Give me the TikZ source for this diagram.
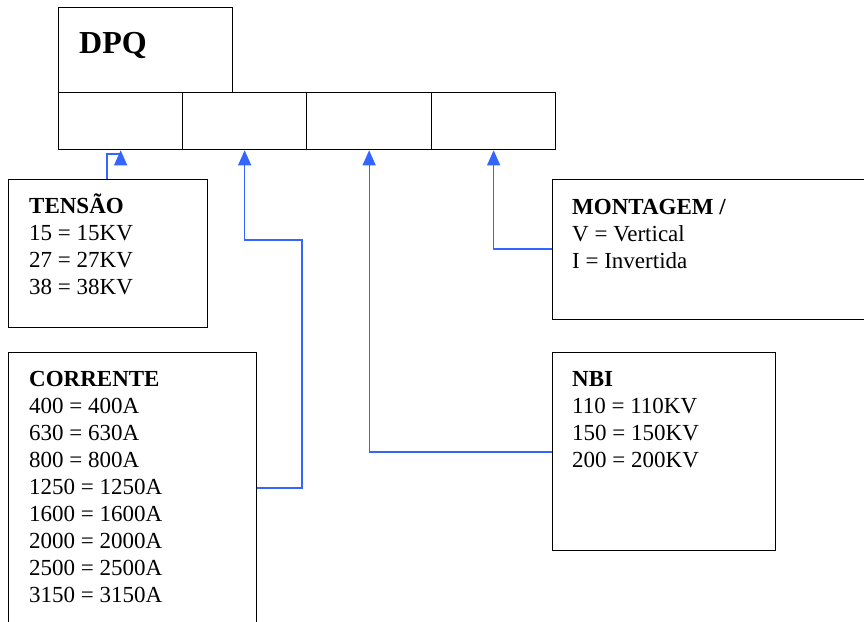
\documentclass[tikz,border=0pt]{standalone}
\usepackage{fontspec}
\setmainfont{Liberation Serif}
\usetikzlibrary{arrows.meta}
\definecolor{connblue}{RGB}{51,102,255}
\begin{document}
\begin{tikzpicture}[x=1pt,y=-1pt,
  box/.style={draw=black,line width=1.3pt,rectangle,inner sep=0pt,anchor=north west},
  conn/.style={draw=connblue,line width=1.2pt},
  arr/.style={-{Triangle[width=13pt,length=15pt]}},
  txt/.style={anchor=north west,inner sep=0pt,align=left,font=\fontsize{23}{27}\selectfont}]
\useasboundingbox (0,0) rectangle (864,621);
\clip (0,0) rectangle (864,621);
% top code box
\node[box,minimum width=174pt,minimum height=85pt] (dpq) at (58,7) {};
\node[anchor=base west,inner sep=0pt,font=\bfseries\fontsize{32}{36}\selectfont] (dpqt) at (79,53) {DPQ};
\node[box,minimum width=124pt,minimum height=57pt] (c1) at (58,92) {};
\node[box,minimum width=124pt,minimum height=57pt] (c2) at (182,92) {};
\node[box,minimum width=125pt,minimum height=57pt] (c3) at (306,92) {};
\node[box,minimum width=124pt,minimum height=57pt] (c4) at (431,92) {};
% legend boxes
\node[box,minimum width=199pt,minimum height=148pt] (tensao) at (8,179) {};
\node[txt] (tensaot) at (29,193) {\rule{0pt}{20pt}\textbf{TENSÃO}\\15 = 15KV\\27 = 27KV\\38 = 38KV};
\node[box,minimum width=248pt,minimum height=300pt] (corrente) at (8,352) {};
\node[txt] (correntet) at (29,366) {\rule{0pt}{20pt}\textbf{CORRENTE}\\400 = 400A\\630 = 630A\\800 = 800A\\1250 = 1250A\\1600 = 1600A\\2000 = 2000A\\2500 = 2500A\\3150 = 3150A};
\node[box,minimum width=330pt,minimum height=140pt] (montagem) at (552,179) {};
\node[txt] (montagemt) at (572,194) {\rule{0pt}{20pt}\textbf{MONTAGEM /}\\V = Vertical\\I = Invertida};
\node[box,minimum width=223pt,minimum height=198pt] (nbi) at (552,352) {};
\node[txt] (nbit) at (572,366) {\rule{0pt}{20pt}\textbf{NBI}\\110 = 110KV\\150 = 150KV\\200 = 200KV};
% connectors
\draw[conn,arr] ([xshift=99pt]tensao.north west) -- ++(0,-25) -| (c1.south);
\draw[conn,arr] ([yshift=-136pt]corrente.north east) -| (302,240) -| (c2.south);
\draw[conn,arr] ([yshift=-100pt]nbi.north west) -| (c3.south);
\draw[conn,arr] ([yshift=-70pt]montagem.north west) -| (c4.south);
\end{tikzpicture}
\end{document}
